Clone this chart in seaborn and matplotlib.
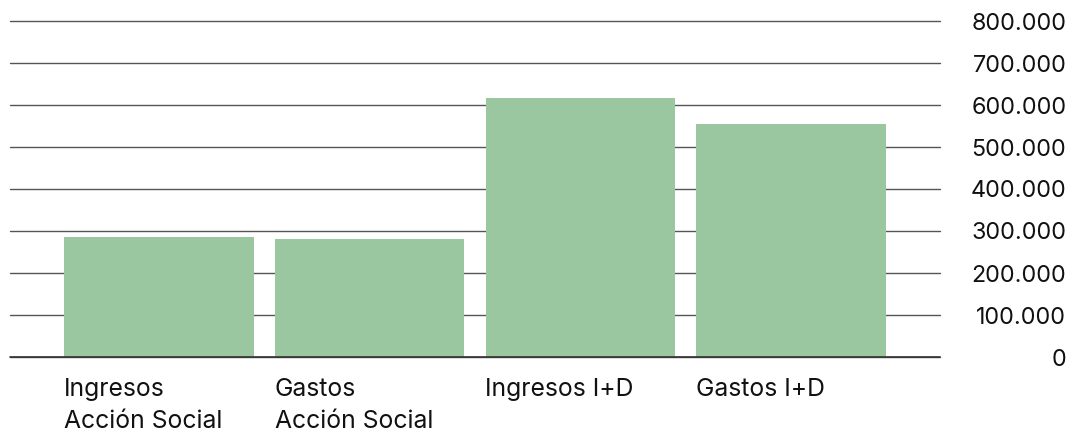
import matplotlib
matplotlib.use("Agg")
import matplotlib.pyplot as plt
import matplotlib.transforms as mtransforms
import seaborn as sns
import pandas as pd
import numpy as np

categories = ["Ingresos\nAcción Social", "Gastos\nAcción Social", "Ingresos I+D", "Gastos I+D"]
values = [286000, 281000, 617000, 555000]
yticks = [0, 100000, 200000, 300000, 400000, 500000, 600000, 700000, 800000]
ytick_labels = ["0", "100.000", "200.000", "300.000", "400.000", "500.000", "600.000", "700.000", "800.000"]

sns.set_theme(style="white")
plt.rcParams['font.family'] = ['Inter', 'DejaVu Sans']

df = pd.DataFrame({"cat": categories, "val": values})

fig = plt.figure(figsize=(10.73, 4.32), dpi=100)
ax = fig.add_axes([10/1073, 1-357/432, (940-10)/1073, (357-21)/432])

ax.set_axisbelow(True)
sns.barplot(data=df, x="cat", y="val", color="#9BC7A0", saturation=1, width=0.9,
            linewidth=0, edgecolor="none", ax=ax)

ax.set_xlim(-0.705, 3.705)
ax.set_ylim(0, 800000)
for s in ax.spines.values():
    s.set_visible(False)

ax.set_yticks(yticks)
ax.yaxis.grid(True, color="#555555", linewidth=1.0)
for gl in ax.get_ygridlines():
    gl.set_clip_on(False)
ax.axhline(0, color="#333333", linewidth=1.2, clip_on=False, zorder=3)
ax.yaxis.tick_right()
ax.set_yticklabels(ytick_labels, fontsize=16.8, color="#111111")
ax.tick_params(axis="y", length=0, pad=91)
for lbl in ax.get_yticklabels():
    lbl.set_ha("right")

ax.set_xticks(range(len(categories)))
ax.set_xticklabels(categories, fontsize=17.8, color="#111111", linespacing=1.53)
ax.tick_params(axis="x", length=0, pad=15)
offset = mtransforms.ScaledTranslation(-95/100, 0, fig.dpi_scale_trans)
for lbl in ax.get_xticklabels():
    lbl.set_ha("left")
    lbl.set_va("top")
    lbl.set_transform(lbl.get_transform() + offset)

ax.set_xlabel("")
ax.set_ylabel("")

fig.savefig("out.png", dpi=100)
